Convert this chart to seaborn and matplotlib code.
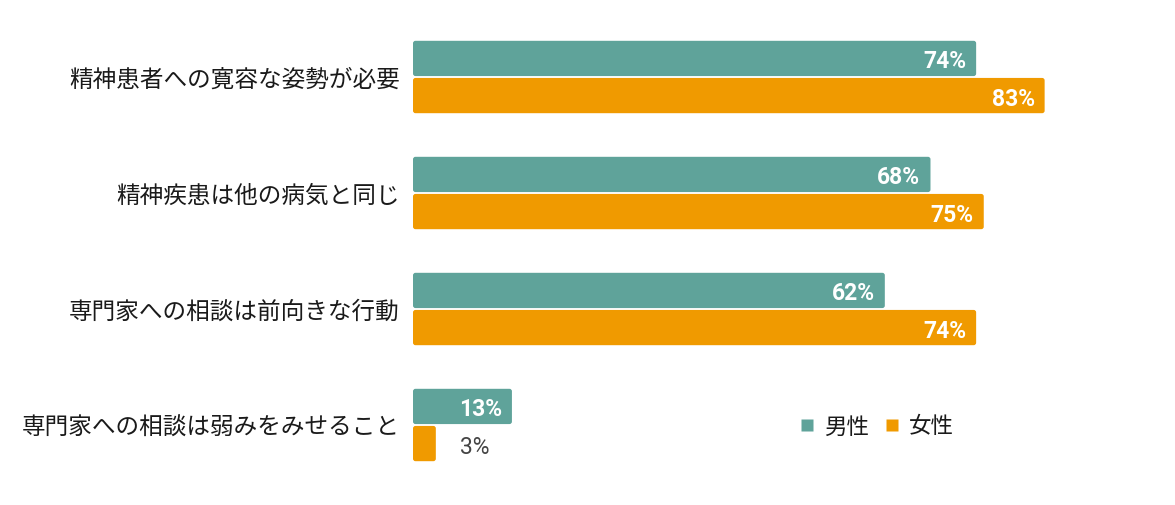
import matplotlib
matplotlib.use('Agg')
import matplotlib.pyplot as plt
import seaborn as sns
import pandas as pd
from matplotlib.patches import FancyBboxPatch
from matplotlib.lines import Line2D

categories = ['精神患者への寛容な姿勢が必要', '精神疾患は他の病気と同じ',
              '専門家への相談は前向きな行動', '専門家への相談は弱みをみせること']
male = [74, 68, 62, 13]
female = [83, 75, 74, 3]
series = ['男性', '女性']
colors = ['#5fa39a', '#f09a00']

df = pd.DataFrame({
    'cat': categories * 2,
    'val': male + female,
    'sex': [series[0]] * len(male) + [series[1]] * len(female),
})

sns.set_theme(style='white')
plt.rcParams['font.family'] = ['Noto Sans CJK JP', 'DejaVu Sans']

W, H = 1175, 506
top_px, bot_px = 20, 484
fig = plt.figure(figsize=(W / 100, H / 100), dpi=100)
ax = fig.add_axes([413 / W, 1 - bot_px / H, 761 / W, (bot_px - top_px) / H])

sns.barplot(data=df, y='cat', x='val', hue='sex', orient='h', palette=colors,
            width=0.64, gap=0.05, saturation=1, linewidth=0, ax=ax, legend=False)

ax.set_xlim(0, 100)
ax.set_ylim(3.5, -0.5)

# rounded corners
px_x = 761 / 100.0
px_y = (bot_px - top_px) / 4.0
r_px = 2.5
for cont in ax.containers:
    for bar in cont:
        x0, y0 = bar.get_x(), bar.get_y()
        w, h = bar.get_width(), bar.get_height()
        fc = bar.get_facecolor()
        bar.set_visible(False)
        p = FancyBboxPatch((x0, y0), w, h,
                           boxstyle=f"round,pad=0,rounding_size={r_px / px_x}",
                           mutation_aspect=(1 / px_y) / (1 / px_x),
                           facecolor=fc, edgecolor='none', linewidth=0)
        ax.add_patch(p)

# value labels
for cont in ax.containers:
    for bar in cont:
        v = bar.get_width()
        yc = bar.get_y() + bar.get_height() / 2
        if v >= 10:
            ax.annotate(f"{v:.0f}%", xy=(v, yc), xytext=(-10, 0), textcoords='offset pixels',
                        ha='right', va='center_baseline', color='white', fontsize=16.5,
                        fontweight='bold', family=['Roboto', 'DejaVu Sans'])
        else:
            ax.annotate(f"{v:.0f}%", xy=(v, yc), xytext=(24, 0), textcoords='offset pixels',
                        ha='left', va='center_baseline', color='#444444', fontsize=16.5,
                        family=['Roboto', 'DejaVu Sans'])

ax.set_xlabel('')
ax.set_ylabel('')
ax.set_xticks([])
ax.tick_params(axis='y', length=0, pad=9.5, labelsize=17, labelcolor='#1a1a1a')
sns.despine(ax=ax, left=True, bottom=True)

handles = [Line2D([], [], marker='s', linestyle='none', markersize=8,
                  markerfacecolor=c, markeredgecolor='none') for c in colors]
fig.legend(handles, series, loc='center', bbox_to_anchor=(878 / W, 1 - 427 / H),
           ncol=2, frameon=False, fontsize=16.2, handlelength=0.5, handletextpad=0.5,
           columnspacing=0.77, borderpad=0, borderaxespad=0,
           labelcolor='#1a1a1a')

fig.savefig('out.png', dpi=100)
